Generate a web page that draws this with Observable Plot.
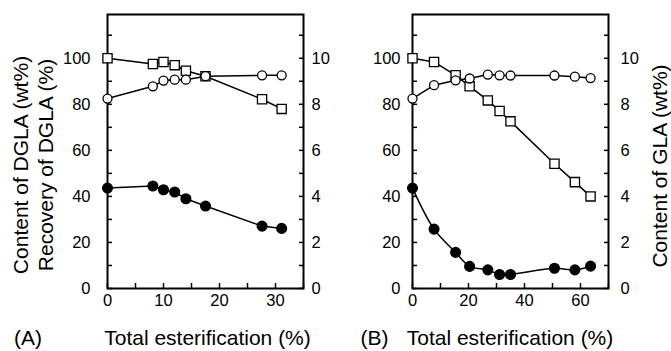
<!DOCTYPE html>
<html><head><meta charset="utf-8">
<script src="https://cdn.jsdelivr.net/npm/d3@7"></script>
<script src="https://cdn.jsdelivr.net/npm/@observablehq/plot@0.6"></script>
<style>
html,body{margin:0;padding:0;background:#fff;}
#wrap{position:relative;width:671px;height:351px;overflow:hidden;font-family:"Liberation Sans",Arial,sans-serif;color:#000;}
.p{position:absolute;top:0;}
.t{position:absolute;white-space:nowrap;font-size:21px;line-height:1;transform:translate(-50%,-50%);}
.r{transform:translate(-50%,-50%) rotate(-90deg);}
</style></head><body><div id="wrap"></div>
<script>
// Panel A data
const xA = [0, 8.1, 10, 12, 14, 17.5, 27.6, 31.1];
const recoveryA = [100, 97.5, 98.4, 97, 94.6, 92.2, 82.2, 78];
const contentA = [82.5, 87.8, 90.3, 90.7, 90.7, 92.2, 92.6, 92.6];
const glaA = [4.36, 4.45, 4.29, 4.19, 3.90, 3.58, 2.71, 2.61];
// Panel B data
const xB = [0, 7.7, 15.4, 20.4, 26.9, 31.1, 35, 50.7, 58, 63.6];
const recoveryB = [100, 98.4, 92.6, 87.8, 81.7, 77.1, 72.6, 54.2, 46.2, 40];
const contentB = [82.5, 88.3, 90.4, 91.2, 92.9, 92.6, 92.5, 92.5, 92.0, 91.4];
const glaB = [4.36, 2.58, 1.57, 0.96, 0.81, 0.61, 0.61, 0.88, 0.81, 0.97];
// Axis ticks
const yMajor = [0, 20, 40, 60, 80, 100];
const yMinor = [0, 10, 20, 30, 40, 50, 60, 70, 80, 90, 100, 110];
const yRightLabels = [0, 2, 4, 6, 8, 10];
const xMajorA = [0, 10, 20, 30];
const xMinorA = [0, 5, 10, 15, 20, 25, 30, 35];
const xMajorB = [0, 20, 40, 60];
const xMinorB = [0, 10, 20, 30, 40, 50, 60, 70];

const k = yMajor[yMajor.length - 1] / yRightLabels[yRightLabels.length - 1];

function panel({x, content, recovery, gla, xDomain, xMajor, xMinor, width, left, marginLeft, marginRight, padLeft, padRight, glaCurve}) {
  const rows = x.map((v, i) => ({x: v, content: content[i], recovery: recovery[i], gla: gla[i]}));
  const glaY = d => d.gla * k;
  const svg = Plot.plot({
    width, height: 351,
    marginLeft, marginRight, marginTop: 14, marginBottom: 63,
    x: {domain: xDomain, label: null},
    y: {domain: [0, 119], label: null},
    style: {fontFamily: '"Liberation Sans", Arial, sans-serif', fontSize: "16.5px", color: "black", background: "transparent", overflow: "visible"},
    marks: [
      Plot.axisX(xMinor, {anchor: "bottom", tickSize: 5, dy: -5, fill: "none", label: null, strokeWidth: 1.5}),
      Plot.axisX(xMajor, {anchor: "bottom", tickSize: 0, tickPadding: 6, label: null}),
      Plot.axisY(yMinor, {anchor: "left", tickSize: 5, dx: 5, fill: "none", label: null, strokeWidth: 1.5}),
      Plot.axisY(yMajor, {anchor: "left", tickSize: 0, tickPadding: padLeft, label: null}),
      Plot.axisY(yMinor, {anchor: "right", tickSize: 5, dx: -5, fill: "none", label: null, strokeWidth: 1.5}),
      Plot.axisY(yMajor, {anchor: "right", tickSize: 0, tickPadding: padRight, label: null, tickFormat: d => String(d / k)}),
      Plot.frame({stroke: "black", strokeWidth: 2}),
      Plot.line(rows, {x: "x", y: "recovery", stroke: "black", strokeWidth: 1.5}),
      Plot.line(rows, {x: "x", y: "content", stroke: "black", strokeWidth: 1.5}),
      Plot.line(rows, {x: "x", y: glaY, stroke: "black", strokeWidth: 1.5, curve: glaCurve}),
      Plot.dot(rows, {x: "x", y: "recovery", symbol: "square", r: 5.2, fill: "white", stroke: "black", strokeWidth: 1.3}),
      Plot.dot(rows, {x: "x", y: "content", r: 4.5, fill: "white", stroke: "black", strokeWidth: 1.3}),
      Plot.dot(rows, {x: "x", y: glaY, r: 4.8, fill: "black", stroke: "black"})
    ]
  });
  svg.classList.add("p");
  svg.style.left = left + "px";
  return svg;
}

const wrap = document.getElementById("wrap");
wrap.appendChild(panel({x: xA, content: contentA, recovery: recoveryA, gla: glaA, xDomain: [0, 35], xMajor: xMajorA, xMinor: xMinorA,
  width: 340, left: 0, marginLeft: 107, marginRight: 37, padLeft: 17, padRight: 8, glaCurve: "linear"}));
wrap.appendChild(panel({x: xB, content: contentB, recovery: recoveryB, gla: glaB, xDomain: [0, 70], xMajor: xMajorB, xMinor: xMinorB,
  width: 331, left: 340, marginLeft: 72, marginRight: 63, padLeft: 12, padRight: 12, glaCurve: "catmull-rom"}));

const titles = [
  {text: "Content of DGLA (wt%)", x: 20, y: 165, rot: true},
  {text: "Recovery of DGLA (%)", x: 45, y: 165, rot: true},
  {text: "Content of GLA (wt%)", x: 659, y: 166, rot: true},
  {text: "(A)", x: 28, y: 337},
  {text: "Total esterification (%)", x: 207.5, y: 337},
  {text: "(B)", x: 374.5, y: 337},
  {text: "Total esterification (%)", x: 510, y: 337}
];
for (const t of titles) {
  const d = document.createElement("div");
  d.className = "t" + (t.rot ? " r" : "");
  d.textContent = t.text;
  d.style.left = t.x + "px";
  d.style.top = t.y + "px";
  wrap.appendChild(d);
}
</script></body></html>
